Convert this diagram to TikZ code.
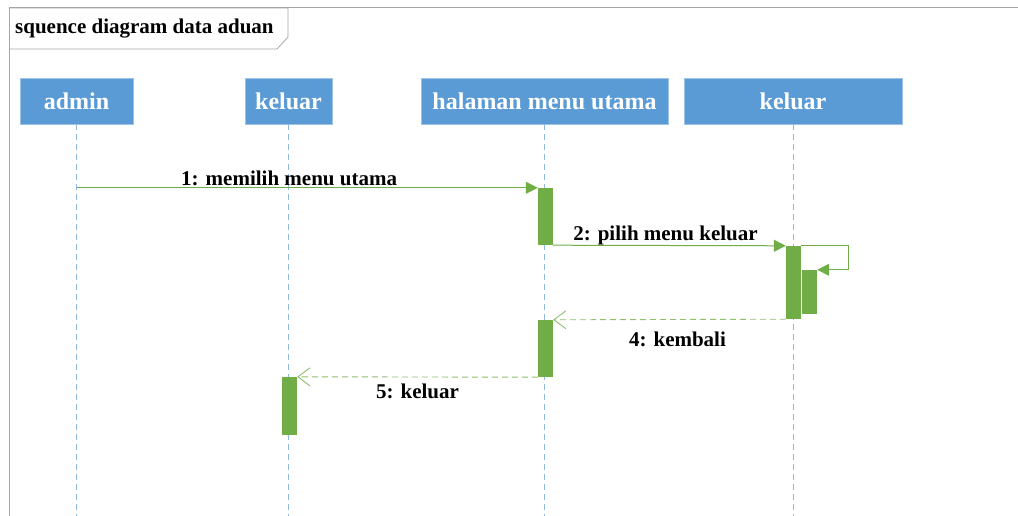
\documentclass[tikz,border=0pt]{standalone}
\usepackage{fontspec}
\setmainfont{Liberation Serif}
\usetikzlibrary{arrows.meta}
\definecolor{hdrblue}{HTML}{5B9BD5}
\definecolor{hdredge}{HTML}{9DC3E6}
\definecolor{lifeblue}{HTML}{8FB8E0}
\definecolor{actgreen}{HTML}{70AD47}
\definecolor{retgreen}{HTML}{8CC06A}
\definecolor{framegray}{HTML}{A6A6A6}
\tikzset{
  header/.style={draw=hdredge, line width=0.8pt, fill=hdrblue, text=white,
    font=\bfseries\fontsize{24}{28}\selectfont, minimum height=46pt, inner sep=0pt},
  lifeline/.style={draw=lifeblue, line width=0.9pt, dash pattern=on 6pt off 4pt},
  actbox/.style={fill=actgreen, draw=none, minimum width=15pt, inner sep=0pt},
  callmsg/.style={draw=actgreen, line width=1pt,
    -{Triangle[length=12pt,width=12pt]}},
  retmsg/.style={draw=retgreen, line width=0.9pt, dash pattern=on 6pt off 4pt,
    -{Straight Barb[length=12pt,width=18pt,line width=0.9pt]}},
  msglabel/.style={font=\bfseries\fontsize{21}{25}\selectfont, inner sep=1pt},
}
\begin{document}
\begin{tikzpicture}[x=1pt,y=-1pt]
  \useasboundingbox (0,0) rectangle (1018,516);
  % frame and title tab
  \draw[framegray, line width=1pt] (1018,8) -- (9,8) -- (9,516);
  \draw[framegray, line width=0.8pt] (9,8) -- (288,8) -- (288,37) -- (277,49) -- (9,49);
  \node[anchor=west, font=\bfseries\fontsize{21}{25}\selectfont, inner sep=0pt]
    (title) at (15,29) {squence diagram data aduan};

  % lifeline headers
  \node[header, minimum width=113pt] (admin) at (76.5,101) {admin};
  \node[header, minimum width=87pt] (keluarA) at (288.5,101) {keluar};
  \node[header, minimum width=247pt] (menu) at (544.5,101) {halaman menu utama};
  \node[header, minimum width=218pt] (keluarB) at (793,101) {keluar};

  % lifelines
  \foreach \n in {admin,keluarA,menu,keluarB}
    \draw[lifeline] (\n.south) -- (\n.south |- 0,516);

  % activations
  \node[actbox, minimum height=57pt] (act1) at (545.5,216.5) {};
  \node[actbox, minimum height=73pt] (act2) at (793.5,282.5) {};
  \node[actbox, minimum height=44pt] (act3) at (809.5,292) {};
  \node[actbox, minimum height=57pt] (act4) at (545.5,348.5) {};
  \node[actbox, minimum height=58pt] (act5) at (289.5,406) {};

  % messages
  \draw[callmsg] (admin.south |- act1.north west) -- (act1.north west)
    node[msglabel, midway, above=1pt, xshift=-18pt] (m1) {1: memilih menu utama};
  \draw[callmsg] (act1.south east) -- (act2.north west)
    node[msglabel, midway, above=-1pt, xshift=-4pt] (m2) {2: pilih menu keluar};
  \draw[callmsg] (act2.north east) -- ++(47,0) |- (act3.north east);
  \draw[retmsg] (act2.south west) -- (act4.north east)
    node[msglabel, midway, below=11pt, xshift=8pt] (m4) {4: kembali};
  \draw[retmsg] (act4.south west) -- (act5.north east)
    node[msglabel, midway, below=5pt] (m5) {5: keluar};
\end{tikzpicture}
\end{document}
